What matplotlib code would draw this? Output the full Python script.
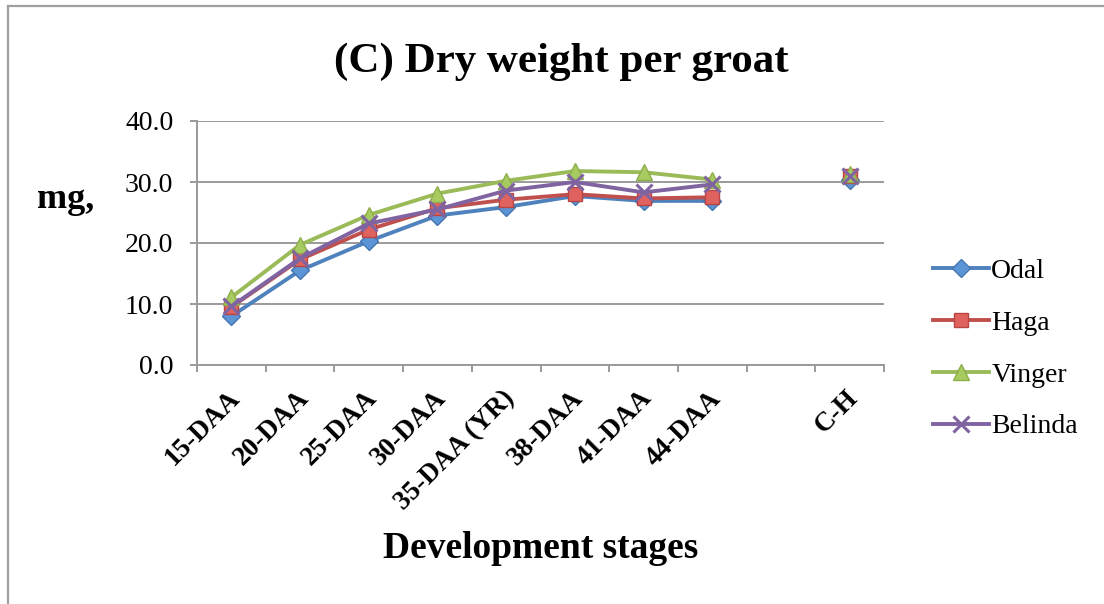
import numpy as np
import matplotlib
matplotlib.use("Agg")
import matplotlib.pyplot as plt
from matplotlib.lines import Line2D
import matplotlib.transforms as mtransforms

plt.rcParams['font.family'] = ['Liberation Serif', 'DejaVu Serif']

categories = ['15-DAA', '20-DAA', '25-DAA', '30-DAA', '35-DAA (YR)', '38-DAA',
              '41-DAA', '44-DAA', '', 'C-H']
odal = [8.0, 15.5, 20.3, 24.5, 25.9, 27.7, 26.9, 26.9, np.nan, 30.3]
haga = [9.5, 17.3, 22.2, 25.7, 27.1, 28.0, 27.3, 27.5, np.nan, 31.0]
vinger = [11.1, 19.7, 24.6, 28.1, 30.2, 31.8, 31.6, 30.4, np.nan, 31.3]
belinda = [9.6, 17.5, 23.2, 25.5, 28.6, 30.0, 28.3, 29.6, np.nan, 31.0]
yticks = [0, 10, 20, 30, 40]

W, H = 1104, 604
fig = plt.figure(figsize=(W / 100, H / 100), dpi=100)
ax = fig.add_axes([197 / W, 1 - 365 / H, (884 - 197) / W, (365 - 121) / H])

x = np.arange(len(categories))
grey = '#9a9a9a'

series = [
    ('Odal', odal, '#4F81BD', 'D', '#5C95D6', '#4676B0', 9),
    ('Haga', haga, '#C0504D', 's', '#E0625F', '#B84542', 10.5),
    ('Vinger', vinger, '#9BBB59', '^', '#A8CB61', '#8EAD4D', 11.5),
    ('Belinda', belinda, '#8064A2', 'x', '#8064A2', '#8064A2', 11.5),
]
for name, vals, col, mk, fc, ec, ms in series:
    ax.plot(x, vals, color=col, lw=2.8, marker=mk, markersize=ms,
            markerfacecolor=fc, markeredgecolor=ec,
            markeredgewidth=2.2 if mk == 'x' else 1.0, label=name, zorder=3)

ax.set_xlim(-0.5, len(categories) - 0.5)
ax.set_ylim(0, 40)
ax.set_yticks(yticks)
ax.set_yticklabels([f'{v:.1f}' for v in yticks])
ax.grid(axis='y', color=grey, lw=1.4)
ax.set_axisbelow(True)

for s in ['top', 'right']:
    ax.spines[s].set_visible(False)
for s in ['left', 'bottom']:
    ax.spines[s].set_color(grey)
    ax.spines[s].set_linewidth(1.4)

ax.tick_params(axis='y', direction='out', length=5, width=1.4, color=grey,
               labelsize=20, pad=12)
ax.set_xticks(x)
ax.set_xticklabels(categories, rotation=45, ha='right', va='top',
                   rotation_mode='anchor', fontsize=19.5, fontweight='bold')
ax.tick_params(axis='x', length=0, pad=15)
ax.set_xticks(np.arange(-0.5, len(categories), 1), minor=True)
ax.tick_params(axis='x', which='minor', direction='out', length=5, width=1.4,
               color=grey)
offset = mtransforms.ScaledTranslation(-4 / 100, 0, fig.dpi_scale_trans)
for lab in ax.get_xticklabels():
    lab.set_transform(lab.get_transform() + offset)

fig.text(561 / W, 1 - 62 / H, '(C) Dry weight per groat', ha='center',
         va='center', fontsize=31, fontweight='bold')
fig.text(541 / W, 1 - 548 / H, 'Development stages', ha='center',
         va='center', fontsize=27, fontweight='bold')
fig.text(66 / W, 1 - 200 / H, 'mg,', ha='center', va='center',
         fontsize=26, fontweight='bold')

leg = fig.legend(loc='center left', bbox_to_anchor=(933 / W, 1 - 349 / H),
                 frameon=False, fontsize=20, handlelength=2.0,
                 handletextpad=0.1, labelspacing=0.95, borderpad=0,
                 borderaxespad=0)

# chart border (partially visible)
fig.add_artist(Line2D([8 / W, 1], [1 - 6 / H, 1 - 6 / H], color='#a0a0a0',
                      lw=1.6, transform=fig.transFigure))
fig.add_artist(Line2D([8 / W, 8 / W], [0, 1 - 6 / H], color='#a0a0a0',
                      lw=1.6, transform=fig.transFigure))

fig.savefig('out.png', dpi=100)
